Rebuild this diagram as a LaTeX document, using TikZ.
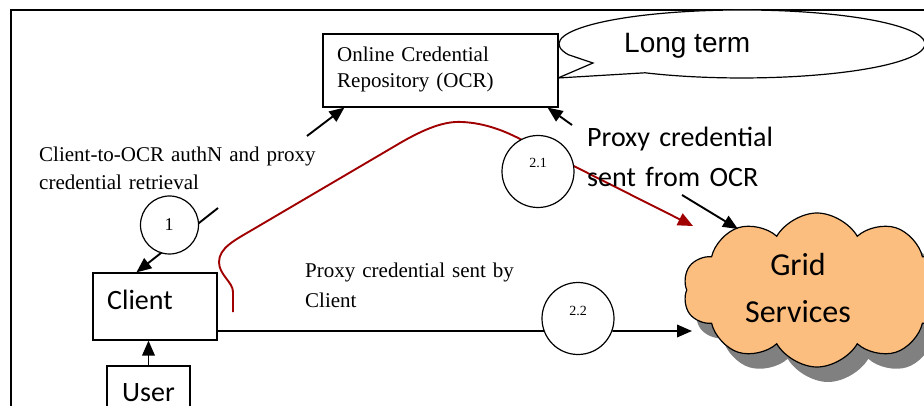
\documentclass[tikz,border=0pt]{standalone}
\usepackage{fontspec}
\setmainfont{Liberation Serif}
\newfontfamily\calibri{Carlito}
\newfontfamily\arialf{Liberation Sans}
\usetikzlibrary{arrows.meta,shapes.symbols,calc}
\definecolor{gridorange}{HTML}{FCBE7E}
\definecolor{curvered}{HTML}{A00000}
\definecolor{shadowgray}{HTML}{808080}
\begin{document}
\begin{tikzpicture}[x=1pt,y=-1pt,
  box/.style={draw, line width=1.2pt, fill=white, inner sep=0pt},
  circ/.style={draw, circle, line width=1.2pt, fill=white, inner sep=0pt},
  arr/.style={line width=1.9pt, -{Triangle[length=15pt,width=12.5pt]}},
  plainline/.style={line width=1.5pt},
  redarr/.style={line width=1.9pt, draw=curvered, -{Triangle[length=15pt,width=13pt]}},
  lbl/.style={inner sep=0pt, anchor=base west, align=left},
  cloudshape/.style={cloud, cloud puffs=10, cloud puff arc=120, aspect=1.75,
    minimum width=268pt, minimum height=154pt, inner sep=0pt},
]
\useasboundingbox (0,0) rectangle (924,406);
\clip (0,0) rectangle (924,406);
% outer frame
\draw[line width=1.2pt] (11,420) -- (11,10) -- (930,10);

% speech bubble
\draw[line width=1.2pt, fill=white] (645,72.8)
  arc[start angle=238, end angle=558.5, x radius=183pt, y radius=34pt]
  -- (593,63) -- (558,78) -- cycle;
\node[inner sep=0pt, anchor=base west, font=\arialf\fontsize{28}{32}\selectfont] (longterm) at (624,53) {Long term};

% OCR
\node[box, minimum width=235pt, minimum height=73pt] (ocr) at (440.5,70.5) {};
\node[lbl, text width=220pt, font=\fontsize{21}{26}\selectfont] (ocrtext) at (337,62) {Online Credential\\Repository (OCR)};

% Client, User
\node[box, minimum width=124pt, minimum height=67pt] (client) at (155,306.5) {};
\node[lbl, font=\calibri\fontsize{28}{32}\selectfont] (clienttext) at (107,309) {Client};
\node[box, minimum width=83pt, minimum height=68pt] (user) at (148.5,400) {};
\node[inner sep=0pt, anchor=base, font=\calibri\fontsize{28}{32}\selectfont] (usertext) at (148.5,401) {User};

% cloud
\node[cloudshape, fill=shadowgray] (gridshadow) at (828,305) {};
\node[cloudshape, draw, line width=1.2pt, fill=gridorange] (grid) at (817,290) {};
\node[inner sep=0pt, align=center, font=\calibri\fontsize{32}{47}\selectfont] (gridtext) at (798,288) {Grid\\Services};

% named points
\coordinate (cTip) at ($(client.north west)+(44,0)$);
\coordinate (l1a) at (218,208);
\coordinate (l1b) at (307,136);
\coordinate (ocrTip1) at ($(ocr.south west)+(22,0)$);
\coordinate (ocrTip2) at ($(ocr.south east)+(-11,0)$);
\coordinate (pcsA) at (572,125);
\coordinate (pcsB) at (682,195);
\coordinate (gN) at (738,229);
\coordinate (gR) at (693,226);
\coordinate (gW) at (692,331);
\coordinate (rs) at (233,312);
\coordinate (c22pos) at (578,318.5);

% connectors
\draw[arr] (l1a) -- (cTip);
\draw[arr] (l1b) -- (ocrTip1);
\draw[arr] (user.north) -- (user.north |- client.south);
\draw[arr] (pcsA) -- (ocrTip2);
\draw[arr] (pcsB) -- (gN);

% red curve
\draw[redarr] (rs) -- (233,292) .. controls (233,282) and (219,275) .. (219,262)
  .. controls (219,248) and (235,240) .. (252,230) -- (395,146)
  .. controls (425,128) and (445,121) .. (462,122)
  .. controls (485,123) and (505,131) .. (522,140) -- (gR);

% circles
\node[circ, minimum size=58pt] (c1) at (169.5,225) {};
\node[inner sep=0pt, anchor=base, font=\fontsize{18}{20}\selectfont] (c1text) at (169,231) {1};
\node[circ, minimum size=72pt] (c21) at (538,171.5) {};
\node[inner sep=0pt, anchor=base, font=\fontsize{14}{16}\selectfont] (c21text) at (538,168) {2.1};
\node[circ, minimum size=72pt] (c22) at (c22pos) {};
\node[inner sep=0pt, anchor=base, font=\fontsize{14}{16}\selectfont] (c22text) at (578,316) {2.2};

\draw[plainline] (client.east |- c22.200) -- (c22.200);
\draw[arr] (c22.-20) -- (gW);

% labels
\node[lbl, text width=300pt, font=\fontsize{21}{28}\selectfont] (lbl1) at (39,162) {Client-to-OCR authN and proxy\\credential retrieval};
\node[lbl, text width=260pt, font=\fontsize{21}{29}\selectfont] (lbl22) at (305,278) {Proxy credential sent by\\Client};
\node[lbl, text width=260pt, font=\calibri\fontsize{28}{40}\selectfont] (lbl21) at (587,147) {Proxy credential\\sent from OCR};
\end{tikzpicture}
\end{document}
